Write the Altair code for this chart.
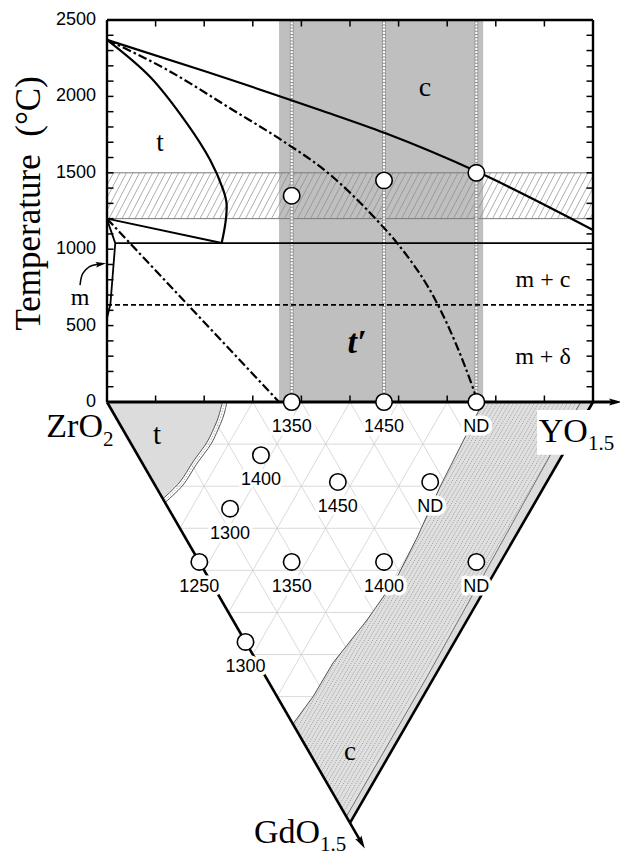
import math
import numpy as np
import pandas as pd
import altair as alt

# ---------------- layout / scales ----------------
W, H = 612, 844
PX_X = 24.3      # px per mol% YO1.5
PX_T = 0.1528    # px per degC
X_DOM = [-99 / PX_X, -99 / PX_X + W / PX_X]
T_DOM = [394 / PX_T - H / PX_T, 394 / PX_T]
GD_T = PX_X * math.sqrt(3) / 2 / PX_T   # degC-equivalent per mol% GdO1.5 (ternary depth)

# ---------------- data ----------------
temp_labels = [0, 500, 1000, 1500, 2000, 2500]
temp_ticks = list(range(100, 2500, 100))
comp_ticks = [2, 4, 6, 8, 10, 12, 14, 16, 18]

# upper diagram: phase boundaries (mol% YO1.5, degC)
cubic_x = [0, 4, 8.76, 11.44, 15.26, 20]
cubic_T = [2370, 2166, 1911, 1760, 1505, 1126]
t0c_x = [0, 2.46, 5.18, 7.2, 9.09, 11.1, 11.94, 13.62, 15.06, 15.26]
t0c_T = [2370, 2175, 1911, 1712, 1500, 1191, 1040, 635, 92, 0]
tss_x = [0, 1.76, 3.28, 4.24, 4.78, 4.92, 4.88, 4.72]
tss_T = [2370, 2130, 1825, 1585, 1390, 1300, 1180, 1040]
eut_x = [0, 4.72]
eut_T = [1200, 1040]
eutectoid_T = 1040
eutectoid_x = [0.34, 20]
mono_x = [0, 0.34, 0.14, 0]
mono_T = [1195, 1040, 640, 550]
t0m_x = [0, 7.08]
t0m_T = [1200, 0]
dashed_T = 635
band_T = [1200, 1500]
tprime_x = [7.08, 15.48]
comp_lines = [7.6, 11.4, 15.2]
tt_T = [1350, 1450, 1500]

# ternary ZrO2-YO1.5-GdO1.5 (mol%)
tern_Y = [7.6, 11.4, 15.2, 5.07, 2.53, 0, 7.6, 3.8, 0, 11.4, 7.6, 11.4]
tern_Gd = [0, 0, 0, 2.53, 5.07, 7.6, 3.8, 7.6, 11.4, 3.8, 7.6, 7.6]
tern_lab = ["1350", "1450", "ND", "1400", "1300", "1250", "1450", "1350", "1300", "ND", "1400", "ND"]

t_in_Y = [4.75, 4.5, 4.2, 3.78, 3.17, 2.11, 1.1, 0]
t_in_Gd = [0, 0.35, 0.75, 1.24, 1.9, 2.85, 3.8, 4.6]
t_out_Y = [4.93, 4.68, 4.37, 3.93, 3.3, 2.2, 1.15, 0]
t_out_Gd = [0, 0.37, 0.78, 1.29, 1.98, 2.96, 3.95, 4.78]
cL_Y = [15.48, 14.08, 11.68, 9.56, 7.78, 5.52, 3.1, 1.48, 0]
cL_Gd = [0, 1.48, 4.04, 6.42, 8.32, 10.36, 12.4, 14.0, 15.3]
cR_Y = [19.5, 17.2, 6.64, 0]
cR_Gd = [0, 2.3, 13.06, 19.7]

# ---------------- helpers ----------------
xs = alt.Scale(domain=X_DOM, nice=False, zero=False)
ys = alt.Scale(domain=T_DOM, nice=False, zero=False)


def X(f):
    return alt.X(f, type="quantitative", scale=xs, axis=None)


def Y(f):
    return alt.Y(f, type="quantitative", scale=ys, axis=None)


def cart(Yv, Gd):
    Yv = np.asarray(Yv, float)
    Gd = np.asarray(Gd, float)
    return Yv + Gd / 2, -Gd * GD_T


def left_edge(x):
    return -2 * GD_T * x


def right_edge(x):
    return -2 * GD_T * (20 - x)


def pts(x, T):
    return pd.DataFrame({"x": list(x), "T": list(T), "i": list(range(len(x)))})


def line(df, **kw):
    return alt.Chart(df).mark_line(**kw).encode(x=X("x"), y=Y("T"), order=alt.Order("i:Q"))


def rules(df, **kw):
    return alt.Chart(df).mark_rule(**kw).encode(
        x=X("x"), y=Y("T"), x2=alt.X2("x2"), y2=alt.Y2("T2"))


def seg(rows):
    return pd.DataFrame(rows, columns=["x", "T", "x2", "T2"])


def texts(df, **kw):
    return alt.Chart(df).mark_text(**kw).encode(x=X("x"), y=Y("T"), text="label:N")


layers = []

# gray t' field
layers.append(alt.Chart(seg([[tprime_x[0], 0, tprime_x[1], 2500]])).mark_rect(color="#bfbfbf").encode(
    x=X("x"), x2=alt.X2("x2"), y=Y("T"), y2=alt.Y2("T2")))

# hatched horizontal band
dxh = 24 / PX_X
sph = 6.5 / PX_X
hrows = []
for x0 in np.arange(-dxh, 20, sph):
    xa, xb, Ta, Tb = x0, x0 + dxh, band_T[0], band_T[1]
    span = band_T[1] - band_T[0]
    if xa < 0:
        Ta = band_T[0] + (0 - x0) / dxh * span
        xa = 0
    if xb > 20:
        Tb = band_T[0] + (20 - x0) / dxh * span
        xb = 20
    if xb > xa:
        hrows.append([xa, Ta, xb, Tb])
layers.append(rules(seg(hrows), color="#8a8a8a", strokeWidth=0.7))
layers.append(rules(seg([[0, t, 20, t] for t in band_T]), color="#7a7a7a", strokeWidth=1))

# triangular grid
grows = []
for k in range(2, 20, 2):
    for a, b in [((0, k), (20 - k, k)), ((k, 0), (k, 20 - k)), ((k, 0), (0, k))]:
        x1, T1 = cart(*a)
        x2, T2 = cart(*b)
        grows.append([float(x1), float(T1), float(x2), float(T2)])
layers.append(rules(seg(grows), color="#d0d0d0", strokeWidth=0.8))

# c region (whole, light) and hatched part
Lx, LT = cart(cL_Y, cL_Gd)
Rx, RT = cart(cR_Y, cR_Gd)
xg = np.linspace(Lx.min(), 20, 400)
up = np.where(xg >= Lx.max(), 0, np.interp(xg, Lx[::-1], LT[::-1]))
lo = np.where(xg < 10, left_edge(xg), right_edge(xg))
layers.append(alt.Chart(pd.DataFrame({"x": xg, "T": lo, "T2": up})).mark_area(
    color="#d9d9d9", opacity=0.92).encode(x=X("x"), y=Y("T"), y2=alt.Y2("T2")))
xh = np.linspace(Lx.min(), Rx.max(), 400)
uph = np.where(xh >= Lx.max(), 0, np.interp(xh, Lx[::-1], LT[::-1]))
loh = np.where(xh < Rx.min(), left_edge(xh), np.interp(xh, Rx[::-1], RT[::-1]))
layers.append(alt.Chart(pd.DataFrame({"x": xh, "T": loh, "T2": uph})).mark_area(
    color="#e0e0e0", opacity=0.9).encode(x=X("x"), y=Y("T"), y2=alt.Y2("T2")))
Lsum = np.array(cL_Y) + np.array(cL_Gd)
Rsum = np.array(cR_Y) + np.array(cR_Gd)
crow = []
for s in np.arange(15.4, 19.5, 0.17):
    g = np.linspace(0, s, 800)
    inside = (s > np.interp(g, cL_Gd, Lsum)) & (s < np.interp(g, cR_Gd, Rsum))
    start = None
    for j in range(len(g) + 1):
        flag = inside[j] if j < len(g) else False
        if flag and start is None:
            start = j
        if not flag and start is not None:
            g0, g1 = g[start], g[j - 1]
            x1, T1 = cart(s - g0, g0)
            x2, T2 = cart(s - g1, g1)
            crow.append([float(x1), float(T1), float(x2), float(T2)])
            start = None
layers.append(rules(seg(crow), color="#5e5e5e", strokeWidth=0.55, strokeDash=[1.0, 1.2]))
layers.append(line(pts(Lx, LT), color="#444", strokeWidth=0.9))
layers.append(line(pts(Rx, RT), color="#555", strokeWidth=0.8))

# t region
ax, aT = cart(t_in_Y, t_in_Gd)
o = np.argsort(ax)
xt = np.linspace(0, ax.max(), 300)
lot = np.where(xt <= ax.min(), left_edge(xt), np.interp(xt, ax[o], aT[o]))
layers.append(alt.Chart(pd.DataFrame({"x": xt, "T": lot, "T2": 0})).mark_area(
    color="#dcdcdc").encode(x=X("x"), y=Y("T"), y2=alt.Y2("T2")))
bx, bT = cart(t_out_Y, t_out_Gd)
layers.append(line(pts(ax, aT), color="#444", strokeWidth=0.9, interpolate="catmull-rom"))
layers.append(line(pts(bx, bT), color="#444", strokeWidth=0.9, interpolate="catmull-rom"))
layers.append(line(pts((ax + bx) / 2, (aT + bT) / 2), color="#888", strokeWidth=0.7,
                   strokeDash=[1.5, 1.5], interpolate="catmull-rom"))

# vertical composition lines (white dotted)
vrows = [[c, 0, c, 2500] for c in comp_lines]
layers.append(rules(seg(vrows), color="#8a8a8a", strokeWidth=3.6))
layers.append(rules(seg(vrows), color="white", strokeWidth=2.2, strokeDash=[2.2, 1]))

# phase boundary lines in upper diagram
layers.append(line(pts(cubic_x, cubic_T), color="black", strokeWidth=2.2, interpolate="monotone"))
layers.append(line(pts(t0c_x, t0c_T), color="black", strokeWidth=2.2, interpolate="monotone",
                   strokeDash=[9, 3, 2.5, 3]))
layers.append(line(pts(tss_x, tss_T), color="black", strokeWidth=2.2, interpolate="catmull-rom"))
layers.append(line(pts(eut_x, eut_T), color="black", strokeWidth=2))
layers.append(line(pts(eutectoid_x, [eutectoid_T] * 2), color="black", strokeWidth=1.6))
layers.append(line(pts(mono_x, mono_T), color="black", strokeWidth=1.8))
layers.append(line(pts(t0m_x, t0m_T), color="black", strokeWidth=2.2, strokeDash=[9, 3, 2.5, 3]))
layers.append(line(pts([0, 20], [dashed_T] * 2), color="black", strokeWidth=1.7, strokeDash=[5, 3]))

# triangle edges and frame
e0x, e0T = cart([0, 0], [0, 20.9])
layers.append(line(pts(e0x, e0T), color="black", strokeWidth=2.6))
e1x, e1T = cart([20, 0], [0, 20])
layers.append(line(pts(e1x, e1T), color="black", strokeWidth=2.6))
layers.append(alt.Chart(seg([[17.7, -52, 21.2, -345]])).mark_rect(color="white").encode(
    x=X("x"), x2=alt.X2("x2"), y=Y("T"), y2=alt.Y2("T2")))
layers.append(rules(seg([[0, 2500, 20, 2500], [0, 0, 0, 2500], [20, 0, 20, 2500]]),
                    color="black", strokeWidth=2.4))
layers.append(rules(seg([[0, 0, 20.8, 0]]), color="black", strokeWidth=3))

# ticks
TX = 6.5 / PX_X
TT = 6.5 / PX_T
trows = [[0, t, TX, t] for t in temp_ticks] + [[20, t, 20 - TX, t] for t in temp_ticks]
trows += [[c, 2500, c, 2500 - TT] for c in comp_ticks] + [[c, 0, c, TT] for c in comp_ticks]
layers.append(rules(seg(trows), color="black", strokeWidth=1.5))

# arrowheads
ARROW = "M1,0 L-1,-0.55 L-0.65,0 L-1,0.55 Z"
ahx, ahT = cart([0], [20.95])
heads = pd.DataFrame({"x": [20.93, float(ahx[0]), -0.25], "T": [0, float(ahT[0]), 903],
                      "ang": [0, 60, -8], "sz": [170, 170, 110]})
layers.append(alt.Chart(heads).mark_point(shape=ARROW, filled=True, color="black", opacity=1).encode(
    x=X("x"), y=Y("T"), angle=alt.Angle("ang:Q", scale=None), size=alt.Size("sz:Q", scale=None)))
layers.append(line(pts([-1.11, -1.0, -0.72, -0.36], [765, 840, 886, 902]), color="black",
                   strokeWidth=1.5, interpolate="catmull-rom"))

# circles
tx, tT = cart(tern_Y, tern_Gd)
circ = pd.DataFrame({"x": list(tx) + comp_lines, "T": list(tT) + tt_T})
layers.append(alt.Chart(circ).mark_point(filled=True, fill="white", stroke="black", strokeWidth=1.6,
                                         size=270, opacity=1).encode(x=X("x"), y=Y("T")))

# point labels with white halo
lab = pd.DataFrame({"x": tx, "T": tT, "label": tern_lab})
layers.append(texts(lab, font="Liberation Sans", fontSize=18, dy=25, baseline="middle",
                    color="white", stroke="white", strokeWidth=7, strokeJoin="round"))
layers.append(texts(lab, font="Liberation Sans", fontSize=18, dy=25, baseline="middle", color="black"))

# temperature tick labels
tl = pd.DataFrame({"x": [-0.45] * len(temp_labels), "T": temp_labels,
                   "label": [str(v) for v in temp_labels]})
layers.append(texts(tl, font="Liberation Sans", fontSize=18, align="right", baseline="middle"))

# axis title
layers.append(texts(pd.DataFrame({"x": [-3.2], "T": [1300], "label": ["Temperature\u00a0\u00a0(\u00b0C)"]}),
                    font="Liberation Serif", fontSize=35, angle=270, align="center", baseline="middle"))

# phase-field labels
fl = pd.DataFrame({
    "x": [2.18, 13.09, 17.94, 17.94, -1.11, 2.06, 10.0],
    "T": [1695, 2055, 798, 295, 681, -216, -2290],
    "label": ["t", "c", "m + c", "m + \u03b4", "m", "t", "c"],
    "fs": [27, 28, 24, 24, 24, 29, 27]})
layers.append(alt.Chart(fl).mark_text(font="Liberation Serif", baseline="middle").encode(
    x=X("x"), y=Y("T"), text="label:N", size=alt.Size("fs:Q", scale=None)))
layers.append(texts(pd.DataFrame({"x": [10.29], "T": [386], "label": ["t\u2032"]}),
                    font="Liberation Serif", fontSize=34, fontStyle="italic", fontWeight="bold",
                    baseline="middle"))

# vertex labels with subscripts
vl = pd.DataFrame({"x": [-0.165, 19.79, 8.77], "T": [-232, -262, -2886],
                   "label": ["ZrO", "YO", "GdO"]})
layers.append(texts(vl, font="Liberation Serif", fontSize=34, align="right", baseline="alphabetic"))
sl = pd.DataFrame({"x": [-0.165, 19.79, 8.77], "T": [-290, -314, -2938],
                   "label": ["2", "1.5", "1.5"]})
layers.append(texts(sl, font="Liberation Serif", fontSize=21, align="left", baseline="alphabetic"))

chart = alt.layer(*layers).properties(
    width=W, height=H, padding=0, autosize=alt.AutoSizeParams(type="none")
).configure_view(stroke=None)

chart.save("out.html", embed_options={"renderer": "svg", "actions": False})
